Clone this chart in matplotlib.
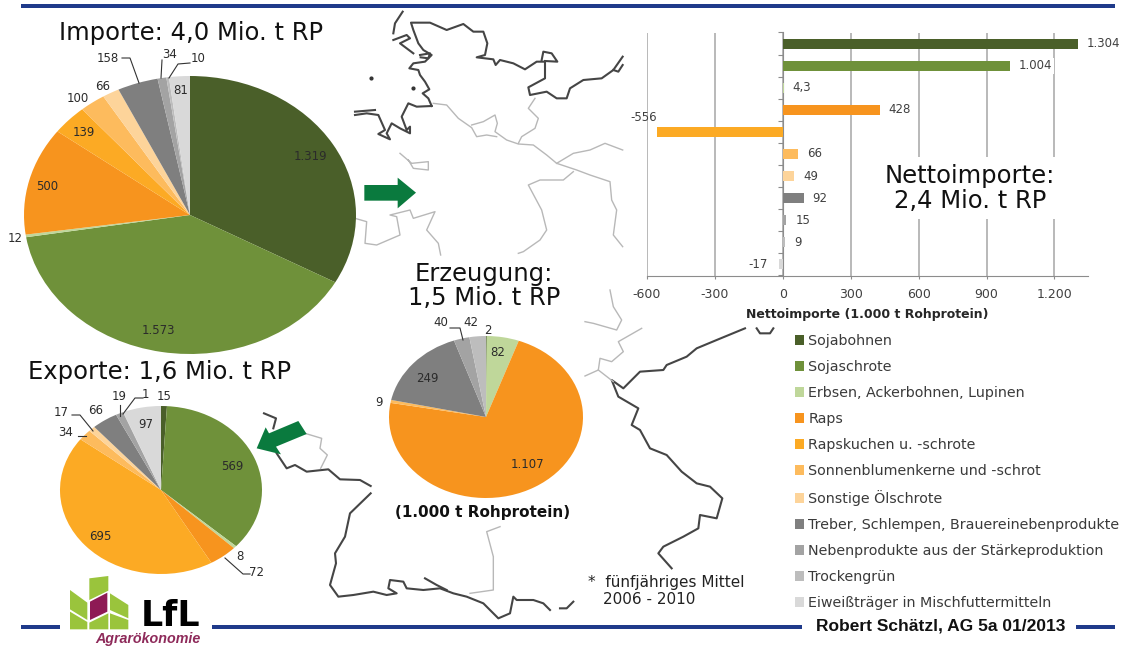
#!/usr/bin/env python
import matplotlib
matplotlib.use('Agg')
import matplotlib.pyplot as plt
from matplotlib.patches import Patch, Polygon, Rectangle

W, H = 1124, 646

categories = ['Sojabohnen', 'Sojaschrote', 'Erbsen, Ackerbohnen, Lupinen', 'Raps',
              'Rapskuchen u. -schrote', 'Sonnenblumenkerne und -schrot', 'Sonstige Ölschrote',
              'Treber, Schlempen, Brauereinebenprodukte', 'Nebenprodukte aus der Stärkeproduktion',
              'Trockengrün', 'Eiweißträger in Mischfuttermitteln']
colors = ['#4a5f29', '#6f913a', '#bfd79a', '#f7941e', '#fcaa24', '#fdbb5d', '#fdd49a',
          '#7f7f7f', '#a3a3a3', '#bdbdbd', '#d9d9d9']

import_values = [1319, 1573, 12, 500, 139, 100, 66, 158, 34, 10, 81]
export_values = [15, 569, 8, 72, 695, 34, 17, 66, 19, 1, 97]
prod_values = [2, 0, 82, 1107, 0, 9, 0, 249, 40, 42, 0]
net_values = [1304, 1004, 4.3, 428, -556, 66, 49, 92, 15, 9, -17]
net_ticks = [-600, -300, 0, 300, 600, 900, 1200]

# where the pie labels sit (pixels), same order as the values
import_pos = [(310, 157), (158, 330), (15, 238), (47, 187), (84, 132), (78, 99), (103, 86),
              (108, 58), (170, 55), (198, 58), (181, 91)]
export_pos = [(164, 397), (232, 466), (240, 557), (257, 572), (100, 536), (66, 432), (61, 412),
              (96, 411), (119, 397), (145, 395), (146, 424)]
prod_pos = [(488, 330), None, (498, 352), (527, 465), None, (379, 402), None,
            (427, 378), (441, 323), (471, 323), None]

# leader lines (pixels)
leaders = [[(122, 58), (130, 58), (139, 83)], [(162, 60), (161, 78)],
           [(190, 63), (178, 64), (169, 78)],
           [(72, 415), (80, 415), (93, 431)], [(78, 436), (86, 436)], [(120, 405), (120, 416)],
           [(143, 398), (135, 398), (123, 414)], [(225, 558), (243, 574), (250, 574)],
           [(450, 328), (460, 328), (463, 340)]]

map_dark = [
    (350, 0, [(245, 318), (235, 295), (218, 280), (238, 268), (225, 245), (210, 225), (205, 210),
              (178, 205), (190, 190), (225, 185), (245, 165), (220, 150), (205, 130), (190, 90),
              (183, 68), (240, 68), (290, 90), (340, 72), (370, 95), (400, 95), (412, 130),
              (405, 165), (380, 172), (430, 178), (437, 195), (450, 180), (490, 190), (525, 208),
              (560, 185), (585, 185), (585, 235), (535, 262), (540, 285), (590, 275), (620, 295),
              (650, 295), (660, 265), (700, 240), (755, 235), (790, 210), (818, 170)]),
    (350, 0, [(575, 180), (580, 155), (605, 160), (622, 185), (585, 183)]),
    (350, 0, [(790, 210), (805, 215), (818, 195)]),
    (350, 0, [(130, 100), (135, 70), (158, 35)]),
    (350, 0, [(130, 120), (170, 105), (180, 115), (150, 130), (190, 160)]),
    (350, 0, [(210, 165), (240, 160), (235, 175), (212, 172)]),
    (350, 0, [(245, 318), (200, 320), (175, 310), (155, 350), (170, 390), (180, 380), (180, 400),
              (150, 385), (125, 370), (110, 400), (120, 418), (85, 402), (105, 390), (85, 345),
              (50, 340), (15, 345)]),
    (350, 0, [(15, 335), (75, 330)]),
    (250, 400, [(42, 40), (78, 55), (70, 85)]),
    (250, 400, [(80, 160), (110, 205), (135, 195), (170, 215), (235, 208), (270, 238), (330, 240),
                (362, 258)]),
    (250, 400, [(362, 280), (300, 340), (285, 410), (255, 460), (258, 490), (240, 555), (265, 590),
                (310, 585), (370, 575), (410, 585), (440, 580), (415, 565), (420, 540), (460, 545),
                (470, 565), (520, 570), (570, 565), (610, 580), (650, 590), (700, 610), (745, 655),
                (780, 640), (790, 590), (800, 600), (850, 600), (880, 610), (900, 630)]),
    (250, 400, [(525, 535), (560, 555), (590, 570)]),
    (560, 290, [(555, 115), (470, 150), (410, 175), (380, 200), (320, 225), (310, 240), (240, 245),
                (190, 295), (155, 270), (175, 320), (235, 355), (215, 405), (240, 420), (270, 475),
                (320, 495), (365, 545), (410, 580), (450, 590), (487, 625), (470, 685), (420, 675),
                (415, 715), (370, 740), (310, 770), (295, 790), (335, 835)]),
    (560, 290, [(590, 115), (600, 130), (630, 130), (640, 115)]),
    (560, 290, [(0, 955), (20, 955), (40, 935)]),
]
map_grey = [
    (350, 0, [(250, 310), (290, 315), (325, 355), (365, 383), (380, 410), (410, 405), (440, 410)]),
    (350, 0, [(365, 375), (400, 365), (435, 345), (442, 370), (435, 395), (470, 420), (505, 432),
              (550, 435), (590, 465), (620, 490), (680, 510), (720, 525), (780, 545), (785, 600),
              (800, 630), (790, 705), (818, 740)]),
    (350, 0, [(505, 430), (515, 410), (555, 385), (565, 355), (535, 325), (555, 295)]),
    (350, 0, [(620, 490), (670, 460), (720, 450), (765, 430), (818, 450)]),
    (350, 0, [(150, 460), (185, 490), (235, 485), (235, 510), (190, 505), (175, 480)]),
    (350, 0, [(670, 515), (640, 540), (570, 540), (535, 555), (575, 630), (590, 690), (570, 720),
              (520, 755), (505, 760)]),
    (350, 0, [(15, 655), (50, 665), (45, 730), (80, 735), (150, 705), (140, 650), (120, 645),
              (180, 630), (190, 655), (255, 635), (230, 690), (265, 730), (272, 765)]),
    (250, 400, [(165, 100), (215, 115), (210, 145), (232, 165), (212, 205)]),
    (250, 400, [(750, 380), (710, 395), (730, 470), (730, 570), (660, 580)]),
    (560, 290, [(150, 0), (160, 50), (185, 90), (170, 120), (100, 100), (75, 95)]),
    (560, 290, [(245, 115), (175, 155), (190, 185), (155, 215), (120, 205), (115, 240), (75, 258)]),
    (560, 290, [(115, 240), (160, 275)]),
]


def de_num(v):
    if v != int(v):
        return str(v).replace('.', ',')
    return f'{int(v):,}'.replace(',', '.')


def px_axes(zorder):
    a = fig.add_axes([0, 0, 1, 1], zorder=zorder)
    a.set_xlim(0, W)
    a.set_ylim(H, 0)
    a.axis('off')
    return a


def draw_pie(values, cx, cy, rx, ry):
    a = fig.add_axes([(cx - rx) / W, 1 - (cy + ry) / H, 2 * rx / W, 2 * ry / H], zorder=2)
    a.pie(values, colors=colors, startangle=90, counterclock=False,
          wedgeprops={'linewidth': 0})
    a.set_aspect('auto')
    a.set_xlim(-1, 1)
    a.set_ylim(-1, 1)
    return a


fig = plt.figure(figsize=(W / 100, H / 100), dpi=100, facecolor='white')

# background map
bg = px_axes(0)
for ox, oy, pts in map_dark:
    bg.plot([ox + p[0] / 3 for p in pts], [oy + p[1] / 3 for p in pts], color='#454545', lw=1.5)
for ox, oy, pts in map_grey:
    bg.plot([ox + p[0] / 3 for p in pts], [oy + p[1] / 3 for p in pts], color='#b8b8b8', lw=1.0)
bg.plot([350 + 62 / 3, 350 + 190 / 3], [233 / 3, 265 / 3], 'o', color='#333333', ms=2, lw=0)

# pies
draw_pie(import_values, 190, 215, 166, 139)
draw_pie(export_values, 161, 490, 101, 84)
draw_pie(prod_values, 486, 417, 97, 81)

# net import bars
left, right, top, bottom = 647, 1088, 32.5, 275.5
ax = fig.add_axes([left / W, 1 - bottom / H, (right - left) / W, (bottom - top) / H], zorder=1)
ypos = list(range(len(net_values)))
ax.grid(axis='x', color='#a6a6a6', lw=1.1)
ax.set_axisbelow(True)
ax.barh(ypos, net_values, height=0.45, color=colors, zorder=3)
ax.set_xlim(-600, 1348)
ax.set_ylim(10.5, -0.5)
ax.set_xticks(net_ticks)
ax.set_xticklabels([de_num(t) for t in net_ticks], fontsize=9, color='#404040')
ax.tick_params(axis='x', length=2, color='#8c8c8c', pad=7)
ax.set_yticks([i - 0.5 for i in range(12)])
ax.set_yticklabels([])
ax.tick_params(axis='y', length=3.5, color='#8c8c8c')
for s in ['top', 'right']:
    ax.spines[s].set_visible(False)
ax.spines['left'].set_position(('data', 0))
ax.spines['left'].set_color('#8c8c8c')
ax.spines['bottom'].set_color('#8c8c8c')
ax.set_xlabel('Nettoimporte (1.000 t Rohprotein)', fontsize=9, fontweight='bold',
              color='#262626', labelpad=5)
for i, v in enumerate(net_values):
    if v == -556:
        xy_off, ha = (0, 14), 'right'
    elif v < 0:
        xy_off, ha = (-11, 0), 'right'
    else:
        xy_off, ha = (9, 0), 'left'
    box = {'fc': 'white', 'ec': 'none', 'pad': 1} if v == 1004 else None
    ax.annotate(de_num(v), (v, i), xytext=xy_off, textcoords='offset pixels', ha=ha, va='center',
                fontsize=8.5, color='#404040', zorder=4, bbox=box, annotation_clip=False)

# everything on top in pixel coordinates
top_ax = px_axes(5)
title_size = 17.5
top_ax.add_patch(Rectangle((881, 157), 180, 62, fc='white', ec='none'))
top_ax.text(970, 176, 'Nettoimporte:', fontsize=title_size, ha='center', va='center', color='#111111')
top_ax.text(970, 201, '2,4 Mio. t RP', fontsize=title_size, ha='center', va='center', color='#111111')
top_ax.text(191, 33, 'Importe: 4,0 Mio. t RP', fontsize=title_size, ha='center', va='center', color='#111111')
top_ax.text(160, 372, 'Exporte: 1,6 Mio. t RP', fontsize=title_size, ha='center', va='center', color='#111111')
top_ax.text(484, 274, 'Erzeugung:', fontsize=title_size, ha='center', va='center', color='#111111')
top_ax.text(484, 298, '1,5 Mio. t RP', fontsize=title_size, ha='center', va='center', color='#111111')
top_ax.text(483, 513, '(1.000 t Rohprotein)', fontsize=11, fontweight='bold', ha='center',
            va='center', color='#111111')
top_ax.text(588, 583, '*  fünfjähriges Mittel', fontsize=11, va='center', color='#222222')
top_ax.text(603, 599, '2006 - 2010', fontsize=11, va='center', color='#222222')

for values, pos in [(import_values, import_pos), (export_values, export_pos), (prod_values, prod_pos)]:
    for v, p in zip(values, pos):
        if p is not None:
            top_ax.text(p[0], p[1], de_num(v), fontsize=8.5, ha='center', va='center', color='#2b2b2b')
for pts in leaders:
    top_ax.plot([p[0] for p in pts], [p[1] for p in pts], color='#333333', lw=0.8)

# arrows
right_arrow = [(43, 555), (143, 555), (143, 533), (198, 578), (143, 625), (143, 602), (43, 602)]
left_arrow = [(20, 145), (93, 163), (78, 140), (170, 102), (145, 63), (57, 100), (47, 82)]
top_ax.add_patch(Polygon([(350 + x / 3, y / 3) for x, y in right_arrow], fc='#0a7a3e', ec='none'))
top_ax.add_patch(Polygon([(250 + x / 3, 400 + y / 3) for x, y in left_arrow], fc='#0a7a3e', ec='none'))

# header and footer rules
blue = '#1f3a8a'
top_ax.add_patch(Rectangle((21, 3.5), 1094, 4, fc=blue, ec='none'))
for x0, x1 in [(21, 60), (212, 802), (1076, 1115)]:
    top_ax.add_patch(Rectangle((x0, 625), x1 - x0, 4, fc=blue, ec='none'))
top_ax.text(941, 626, 'Robert Schätzl, AG 5a 01/2013', family='Liberation Sans', fontweight='bold',
            fontsize=12.5, ha='center', va='center', color='#111111')

# logo
top_ax.add_patch(Rectangle((70, 576), 132, 70, fc='white', ec='none'))
leaves = [[(88, 25), (145, 18), (145, 62), (88, 90)],
          [(30, 60), (82, 98), (82, 150), (30, 118)],
          [(30, 125), (82, 156), (82, 178), (30, 178)],
          [(88, 158), (145, 130), (145, 178), (88, 178)],
          [(150, 70), (205, 105), (205, 145), (150, 120)],
          [(150, 130), (205, 150), (205, 178), (150, 178)]]
for leaf in leaves:
    top_ax.add_patch(Polygon([(60 + x / 3, 570 + y / 3) for x, y in leaf], fc='#9ac43c', ec='none'))
maroon = [(90, 95), (142, 68), (142, 125), (90, 150)]
top_ax.add_patch(Polygon([(60 + x / 3, 570 + y / 3) for x, y in maroon], fc='#8e1a55', ec='none'))
top_ax.text(171, 616, 'LfL', fontsize=25, fontweight='bold', ha='center', va='center', color='black')
top_ax.text(148, 639, 'Agrarökonomie', family='Liberation Sans', fontweight='bold', style='italic',
            fontsize=10.3, ha='center', va='center', color='#8e2a5a')

# legend
handles = [Patch(fc=c, ec='none') for c in colors]
top_ax.legend(handles, categories, loc='upper left', bbox_to_anchor=(795, 334),
              bbox_transform=top_ax.transData, frameon=False, fontsize=10.3, borderpad=0, borderaxespad=0,
              labelspacing=0.84, handlelength=0.63, handleheight=0.63, handletextpad=0.3,
              labelcolor='#3a3a3a')

fig.savefig('out.png', dpi=100)
